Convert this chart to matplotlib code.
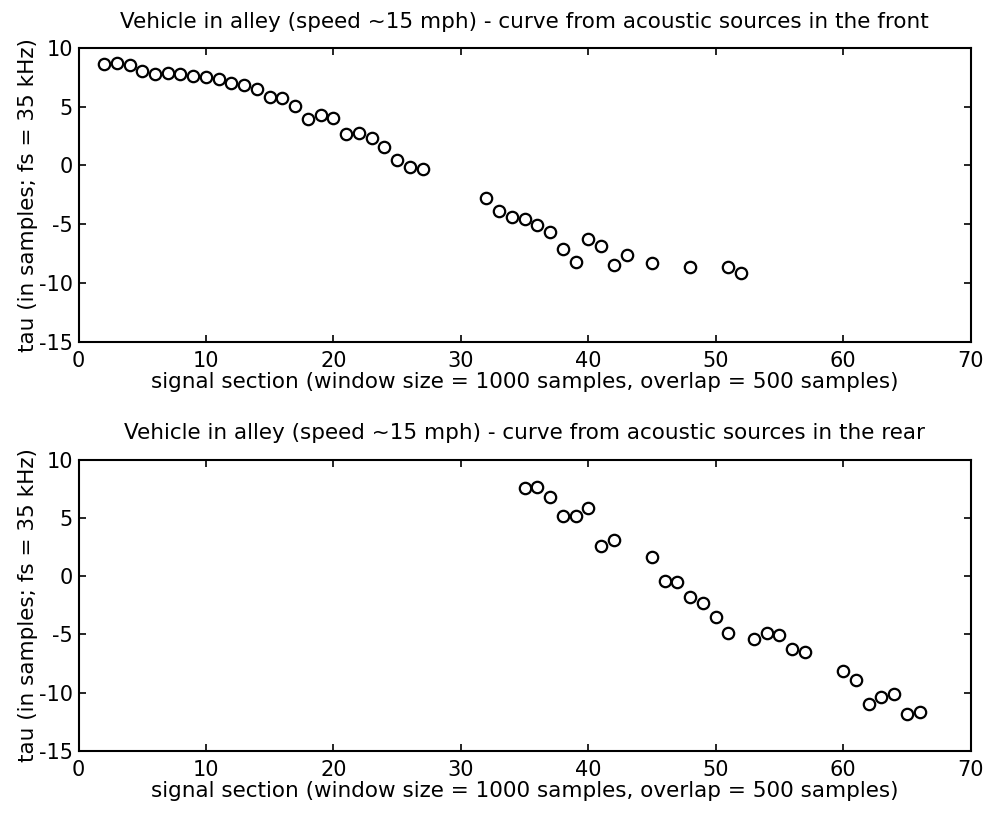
import numpy as np
import matplotlib
matplotlib.use("Agg")
import matplotlib.pyplot as plt

plt.rcParams['font.family'] = ['DejaVu Sans']
plt.rcParams['axes.unicode_minus'] = False

# front sources
front_x = [2, 3, 4, 5, 6, 7, 8, 9, 10, 11, 12, 13, 14, 15, 16, 17, 18, 19, 20,
           21, 22, 23, 24, 25, 26, 27,
           32, 33, 34, 35, 36, 37, 38, 39, 40, 41, 42, 43, 45, 48, 51, 52]
front_tau = [8.59, 8.73, 8.56, 8.02, 7.74, 7.85, 7.79, 7.57, 7.51, 7.37, 7.03, 6.80,
             6.52, 5.81, 5.75, 5.07, 3.97, 4.25, 4.05, 2.64, 2.72, 2.32, 1.56, 0.48,
             -0.14, -0.34,
             -2.81, -3.88, -4.37, -4.56, -5.07, -5.64, -7.14, -8.19, -6.26, -6.83,
             -8.50, -7.57, -8.33, -8.64, -8.64, -9.18]

# rear sources
rear_x = [35, 36, 37, 38, 39, 40, 41, 42, 45, 46, 47, 48, 49, 50, 51,
          53, 54, 55, 56, 57, 60, 61, 62, 63, 64, 65, 66]
rear_tau = [7.52, 7.66, 6.75, 5.19, 5.19, 5.84, 2.62, 3.13, 1.62, -0.43, -0.48,
            -1.79, -2.34, -3.50, -4.84, -5.41, -4.84, -5.01, -6.24, -6.55,
            -8.18, -8.89, -10.94, -10.37, -10.14, -11.82, -11.68]

titles = ["Vehicle in alley (speed ~15 mph) - curve from acoustic sources in the front",
          "Vehicle in alley (speed ~15 mph) - curve from acoustic sources in the rear"]
xlabel = "signal section (window size = 1000 samples, overlap = 500 samples)"
ylabel = "tau (in samples; fs = 35 kHz)"

fs = 15.5

fig = plt.figure(figsize=(9.89, 8.14), dpi=100)
ax1 = fig.add_axes([0.0794, 0.5799, 0.902, 0.3615])
ax2 = fig.add_axes([0.0794, 0.0774, 0.902, 0.358])

for ax, xs, ys, title in [(ax1, front_x, front_tau, titles[0]),
                          (ax2, rear_x, rear_tau, titles[1])]:
    ax.plot(xs, ys, 'o', markersize=8.2, markerfacecolor='none',
            markeredgecolor='black', markeredgewidth=1.6)
    ax.set_xlim(0, 70)
    ax.set_ylim(-15, 10)
    ax.set_xticks(np.arange(0, 71, 10))
    ax.set_yticks(np.arange(-15, 11, 5))
    ax.tick_params(direction='in', length=5, width=1.2, top=True, right=True,
                   labelsize=15)
    ax.tick_params(axis='x', pad=6.5)
    ax.tick_params(axis='y', pad=4)
    for s in ax.spines.values():
        s.set_linewidth(1.5)
    ax.set_title(title, fontsize=fs, pad=14.5)
    ax.set_xlabel(xlabel, fontsize=fs, labelpad=1)
    ax.set_ylabel(ylabel, fontsize=fs, labelpad=1)

fig.savefig("out.png", dpi=100)
